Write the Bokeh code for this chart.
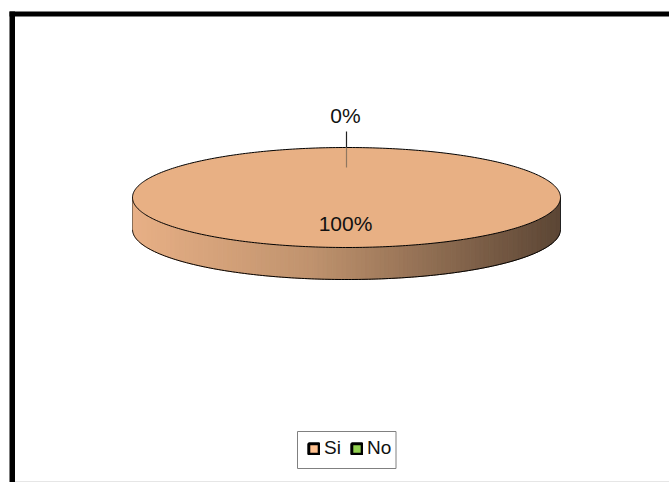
from bokeh.plotting import figure
from bokeh.models import Range1d, Legend, LegendItem
from bokeh.core.properties import value
from bokeh.embed import file_html
from bokeh.resources import INLINE
import numpy as np

categories = ["Si", "No"]
shares = [100, 0]
labels = ["100%", "0%"]
colors = ["#E8B084", "#8FD14F"]
legend_colors = ["#FFC08F", "#92D050"]

W, H = 669, 482
p = figure(width=W, height=H, output_backend="svg", toolbar_location=None,
           x_range=Range1d(0, W), y_range=Range1d(H, 0), min_border=0,
           background_fill_color="white", border_fill_color="white")
p.axis.visible = False
p.grid.visible = False
p.outline_line_color = None

# frame
p.quad(left=[9], right=[14.5], top=[11], bottom=[482], fill_color="black", line_color=None)
p.quad(left=[9], right=[669], top=[11], bottom=[16], fill_color="black", line_color=None)
p.segment(x0=[14.5], x1=[669], y0=[481], y1=[481], line_color="#e6e6e6", line_width=1)

cx, cy, rx, ry, depth = 346, 197, 214, 50, 32

def ell(a):
    return cx + rx*np.cos(a), cy + ry*np.sin(a)

# side wall, shaded from left to right
n = 90
edges = np.linspace(-1, 1, n+1)
c0 = np.array([0xE8, 0xB0, 0x86]); c1 = np.array([0xC0, 0x93, 0x6E]); c2 = np.array([0x5C, 0x46, 0x35])
xs, ys, cs = [], [], []
for i in range(n):
    u = np.linspace(edges[i], edges[i+1], 4)
    yy = cy + ry*np.sqrt(np.clip(1-u*u, 0, 1))
    x = cx + rx*u
    xs.append(list(x)+list(x[::-1])); ys.append(list(yy)+list((yy+depth)[::-1]))
    t = (i+.5)/n
    col = c0+(c1-c0)*(t/.42) if t < .42 else c1+(c2-c1)*((t-.42)/.58)
    cs.append("#%02x%02x%02x" % tuple(int(v) for v in col))
p.patches(xs, ys, fill_color=cs, line_color=cs, line_width=1)
a = np.linspace(0, np.pi, 200)
ex, ey = ell(a)
p.line(ex, ey+depth, line_color="black", line_width=1)
p.segment(x0=[cx-rx], x1=[cx-rx], y0=[cy], y1=[cy+depth], line_color="#8a6f58", line_width=1)
p.segment(x0=[cx+rx], x1=[cx+rx], y0=[cy], y1=[cy+depth], line_color="#222222", line_width=1)

# top face, slices from the shares, clockwise from the top
angles = np.cumsum([0]+shares)/sum(shares)*2*np.pi - np.pi/2
for i, c in enumerate(categories):
    t = np.linspace(angles[i], angles[i+1], 360)
    x, y = ell(t)
    p.patch(np.r_[cx, x], np.r_[cy, y], fill_color=colors[i], line_color=None)
p.line(*ell(np.linspace(0, 2*np.pi, 400)), line_color="black", line_width=1)

# leader and labels
p.segment(x0=[346], x1=[346], y0=[131], y1=[147], line_color="#222222", line_width=1.2)
p.segment(x0=[346], x1=[346], y0=[147], y1=[167], line_color="#8f7760", line_width=1.2)
p.text(x=[345, 345], y=[223, 115], text=labels, text_align="center", text_baseline="middle",
       text_font=value("Liberation Sans"), text_font_size="21px", text_color="#111111")

# legend box and legend
p.quad(left=[297], right=[395.5], top=[431], bottom=[468], fill_color="white", line_color="#808080", line_width=1)
items = []
for c, lc in zip(categories, legend_colors):
    r = p.quad(left=[-50], right=[-40], top=[-50], bottom=[-40], fill_color=lc, line_color="black", line_width=3)
    items.append(LegendItem(label=c, renderers=[r]))
leg = Legend(items=items, orientation="horizontal", location=(307, 23), glyph_width=13, glyph_height=13,
             label_text_font="Liberation Sans", label_text_font_size="19px", label_text_color="#111111",
             border_line_color=None, background_fill_alpha=0,
             padding=0, spacing=6, margin=0, label_standoff=4, label_height=19)
p.add_layout(leg, "center")

open("out.html", "w").write(file_html(p, INLINE))
